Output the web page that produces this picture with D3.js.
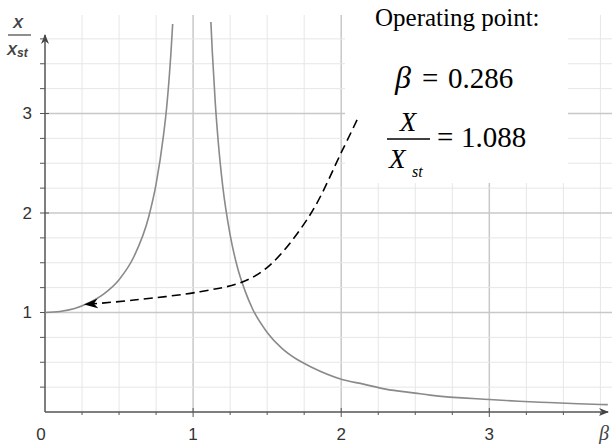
<!DOCTYPE html>
<html>
<head>
<meta charset="utf-8">
<script src="https://cdn.jsdelivr.net/npm/d3@7"></script>
<style>
  body { margin: 0; background: #fff; }
  svg { display: block; }
</style>
</head>
<body>
<svg width="612" height="444"></svg>
<script>
// curve values (left and right of the resonance)
let betaLeft  = [0, 0.1, 0.2, 0.3, 0.4, 0.5, 0.6, 0.7, 0.75, 0.8, 0.82, 0.84, 0.85, 0.862];
let ratioLeft = [1.00, 1.01, 1.04, 1.10, 1.19, 1.33, 1.56, 1.96, 2.29, 2.78, 3.04, 3.39, 3.60, 3.90];
let betaRight  = [1.12, 1.13, 1.15, 1.17, 1.2, 1.25, 1.3, 1.35, 1.4, 1.5, 1.6, 1.7, 1.8, 2.0, 2.15, 2.3, 2.5, 2.6, 3.0, 3.2, 3.4, 3.6, 3.8];
let ratioRight = [3.92, 3.61, 3.10, 2.71, 2.27, 1.78, 1.45, 1.22, 1.04, 0.80, 0.64, 0.53, 0.45, 0.33, 0.28, 0.23, 0.19, 0.17, 0.125, 0.108, 0.095, 0.083, 0.074];

// dashed arrow pointing at the operating point
let arrowBeta  = [2.107, 2.003, 1.789, 1.519, 1.337, 1.047, 0.6, 0.27];
let arrowRatio = [2.935, 2.616, 1.980, 1.477, 1.310, 1.209, 1.125, 1.08];

let opBeta = "0.286";
let opRatio = "1.088";

let xTickLabels = [0, 1, 2, 3];
let yTickLabels = [1, 2, 3];

let svg = d3.select('svg');

let x = d3.scaleLinear().domain([0, 3.8]).range([45, 607.8]);
let y = d3.scaleLinear().domain([0, 4]).range([412, 14]);

let minor = d3.range(0.25, 4.01, 0.25);

// grid
let grid = svg.append('g');
grid.selectAll('.vx').data(minor.filter(d => x(d) < 612)).enter().append('line')
  .attr('x1', d => x(d)).attr('x2', d => x(d))
  .attr('y1', y(0)).attr('y2', y(4) + 1)
  .attr('stroke', d => Number.isInteger(d) ? '#c8c8c8' : '#e6e6e6')
  .attr('stroke-width', d => Number.isInteger(d) ? 1.5 : 1);
grid.selectAll('.hy').data(minor.filter(d => d < 3.9)).enter().append('line')
  .attr('x1', x(0)).attr('x2', 612)
  .attr('y1', d => y(d)).attr('y2', d => y(d))
  .attr('stroke', d => Number.isInteger(d) ? '#c8c8c8' : '#e6e6e6')
  .attr('stroke-width', d => Number.isInteger(d) ? 1.5 : 1);

// white box behind the annotation
svg.append('rect').attr('x', 345).attr('y', 0).attr('width', 223).attr('height', 183).attr('fill', '#fff');

// axes
let defs = svg.append('defs');
defs.append('marker').attr('id', 'ax').attr('viewBox', '0 0 10 10').attr('refX', 9).attr('refY', 5)
  .attr('markerWidth', 10).attr('markerHeight', 10).attr('markerUnits', 'userSpaceOnUse').attr('orient', 'auto')
  .append('path').attr('d', 'M0,1 L10,5 L0,9 L3,5 Z').attr('fill', '#444');
defs.append('marker').attr('id', 'arr').attr('viewBox', '0 0 14 10').attr('refX', 13).attr('refY', 5)
  .attr('markerWidth', 14).attr('markerHeight', 10).attr('markerUnits', 'userSpaceOnUse').attr('orient', 'auto')
  .append('path').attr('d', 'M0,0 L14,5 L0,10 L4,5 Z').attr('fill', '#000');

let axes = svg.append('g').attr('stroke', '#555');
axes.append('line').attr('x1', x(0)).attr('x2', 608).attr('y1', y(0)).attr('y2', y(0))
  .attr('stroke-width', 1.5).attr('marker-end', 'url(#ax)');
axes.append('line').attr('x1', x(0)).attr('x2', x(0)).attr('y1', y(0)).attr('y2', 35)
  .attr('stroke-width', 1.5).attr('marker-end', 'url(#ax)');
axes.selectAll('.tx').data(minor.filter(d => d < 3.8)).enter().append('line')
  .attr('x1', d => x(d)).attr('x2', d => x(d))
  .attr('y1', d => Number.isInteger(d) ? y(0) - 4 : y(0)).attr('y2', d => y(0) + (Number.isInteger(d) ? 5 : 3));
axes.selectAll('.ty').data(minor.filter(d => d < 3.8)).enter().append('line')
  .attr('y1', d => y(d)).attr('y2', d => y(d))
  .attr('x1', d => x(0) - 5).attr('x2', d => Number.isInteger(d) ? x(0) + 4 : x(0));

// tick labels
svg.selectAll('.xl').data(xTickLabels).enter().append('text')
  .attr('x', d => x(d) - (d === 0 ? 4 : 0)).attr('y', 440)
  .attr('text-anchor', 'middle').attr('font-family', 'Liberation Sans, Arial, sans-serif')
  .attr('font-size', 17).attr('fill', '#333').text(d => d);
svg.selectAll('.yl').data(yTickLabels).enter().append('text')
  .attr('x', 32).attr('y', d => y(d)).attr('dy', '0.35em')
  .attr('text-anchor', 'end').attr('font-family', 'Liberation Sans, Arial, sans-serif')
  .attr('font-size', 17).attr('fill', '#333').text(d => d);

// axis titles
svg.append('text').attr('x', 604).attr('y', 440).attr('text-anchor', 'middle')
  .attr('font-family', 'Liberation Serif, serif').attr('font-style', 'italic')
  .attr('font-size', 20).attr('fill', '#444').text('β');
let yl = svg.append('g').attr('font-family', 'Liberation Sans, Arial, sans-serif')
  .attr('font-style', 'italic').attr('font-weight', 'bold').attr('fill', '#444');
yl.append('text').attr('x', 18).attr('y', 28).attr('text-anchor', 'middle').attr('font-size', 15).text('X');
yl.append('line').attr('x1', 8).attr('x2', 31).attr('y1', 35).attr('y2', 35).attr('stroke', '#444').attr('stroke-width', 1.2);
let yt = yl.append('text').attr('x', 7).attr('y', 55).attr('font-size', 15);
yt.append('tspan').text('X');
yt.append('tspan').attr('font-size', 12).attr('dy', 2).text('st');

// response curve
let line = d3.line().x(d => x(d[0])).y(d => y(d[1])).curve(d3.curveMonotoneX);
let left = betaLeft.map((b, i) => [b, ratioLeft[i]]);
let right = betaRight.map((b, i) => [b, ratioRight[i]]);
[left, right].forEach(pts => {
  svg.append('path').attr('d', line(pts)).attr('fill', 'none')
    .attr('stroke', '#8a8a8a').attr('stroke-width', 1.6);
});

// dashed arrow
let dline = d3.line().x(d => x(d[0])).y(d => y(d[1])).curve(d3.curveCatmullRom);
svg.append('path').attr('d', dline(arrowBeta.map((b, i) => [b, arrowRatio[i]])))
  .attr('fill', 'none').attr('stroke', '#000').attr('stroke-width', 1.6)
  .attr('stroke-dasharray', '9,5').attr('marker-end', 'url(#arr)');

// annotation
let ann = svg.append('g').attr('font-family', 'Liberation Serif, Times New Roman, serif').attr('fill', '#000');
ann.append('text').attr('x', 375).attr('y', 26).attr('font-size', 25).text('Operating point:');
ann.append('text').attr('x', 395).attr('y', 88).attr('font-size', 32).attr('font-style', 'italic').text('β');
ann.append('text').attr('x', 422).attr('y', 88).attr('font-size', 29).text('=');
ann.append('text').attr('x', 448).attr('y', 88).attr('font-size', 29).text(opBeta);
ann.append('text').attr('x', 408).attr('y', 131).attr('text-anchor', 'middle').attr('font-size', 27).attr('font-style', 'italic').text('X');
ann.append('line').attr('x1', 387).attr('x2', 430).attr('y1', 139).attr('y2', 139).attr('stroke', '#000').attr('stroke-width', 1.3);
ann.append('text').attr('x', 389).attr('y', 168).attr('font-size', 27).attr('font-style', 'italic').text('X');
ann.append('text').attr('x', 412).attr('y', 177).attr('font-size', 16).attr('font-style', 'italic').text('st');
ann.append('text').attr('x', 437).attr('y', 147).attr('font-size', 29).text('=');
ann.append('text').attr('x', 461).attr('y', 147).attr('font-size', 29).text(opRatio);
</script>
</body>
</html>
